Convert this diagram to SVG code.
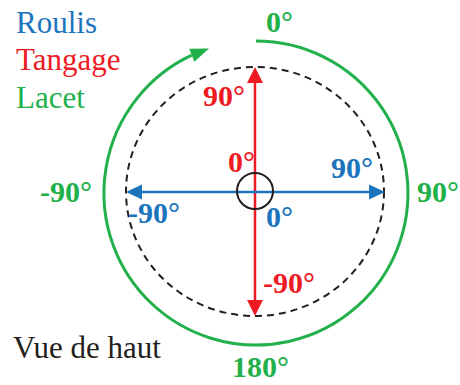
<svg xmlns="http://www.w3.org/2000/svg" width="460" height="385" viewBox="0 0 460 385">
<style>
.dgm-dash{fill:none;stroke:#231f20;stroke-width:2;stroke-dasharray:7,5}
</style>
<rect width="460" height="385" fill="#fff"/>
<g id="legend">
<text style="font-family:'Liberation Serif',serif;font-size:31px;font-weight:normal" fill="#1c75bc" x="16" y="33">Roulis</text>
<text style="font-family:'Liberation Serif',serif;font-size:31px;font-weight:normal" fill="#ed1c24" x="16" y="70">Tangage</text>
<text style="font-family:'Liberation Serif',serif;font-size:31px;font-weight:normal" fill="#22b04b" x="16" y="108">Lacet</text>
<text style="font-family:'Liberation Serif',serif;font-size:31px;font-weight:normal" fill="#231f20" x="13" y="358">Vue de haut</text>
</g>
<g id="connectors">
<ellipse id="dashed" class="dgm-dash" cx="255" cy="191.5" rx="129" ry="124.5"/>
<path id="lacet-arc" d="M256 41 A152 152 0 1 1 191.8 55.2" fill="none" stroke="#22b04b" stroke-width="3"/>
<polygon points="209,48.4 194.4,61.7 189.2,48.7" fill="#22b04b"/>
<line x1="255" y1="81" x2="255" y2="302" stroke="#ed1c24" stroke-width="2.5"/>
<polygon points="255,67 247,83 263,83" fill="#ed1c24"/>
<polygon points="255,316 247,300 263,300" fill="#ed1c24"/>
<line x1="140" y1="192" x2="370" y2="192" stroke="#1c75bc" stroke-width="2.5"/>
<polygon points="126,192 142,184.5 142,199.5" fill="#1c75bc"/>
<polygon points="385,192 369,184.5 369,199.5" fill="#1c75bc"/>
<circle id="center" cx="255" cy="191" r="18" fill="none" stroke="#231f20" stroke-width="2"/>
</g>
<g id="labels">
<text style="font-family:'Liberation Serif',serif;font-size:30px;font-weight:bold" fill="#22b04b" x="266" y="32">0°</text>
<text style="font-family:'Liberation Serif',serif;font-size:30px;font-weight:bold" fill="#ed1c24" x="203" y="106">90°</text>
<text style="font-family:'Liberation Serif',serif;font-size:30px;font-weight:bold" fill="#ed1c24" x="228" y="172">0°</text>
<text style="font-family:'Liberation Serif',serif;font-size:30px;font-weight:bold" fill="#1c75bc" x="331" y="178">90°</text>
<text style="font-family:'Liberation Serif',serif;font-size:30px;font-weight:bold" fill="#22b04b" x="417" y="202">90°</text>
<text style="font-family:'Liberation Serif',serif;font-size:30px;font-weight:bold" fill="#22b04b" x="40" y="202">-90°</text>
<text style="font-family:'Liberation Serif',serif;font-size:30px;font-weight:bold" fill="#1c75bc" x="128" y="223">-90°</text>
<text style="font-family:'Liberation Serif',serif;font-size:30px;font-weight:bold" fill="#1c75bc" x="266" y="227">0°</text>
<text style="font-family:'Liberation Serif',serif;font-size:30px;font-weight:bold" fill="#ed1c24" x="263" y="293">-90°</text>
<text style="font-family:'Liberation Serif',serif;font-size:30px;font-weight:bold" fill="#22b04b" x="232" y="377">180°</text>
</g>
</svg>
